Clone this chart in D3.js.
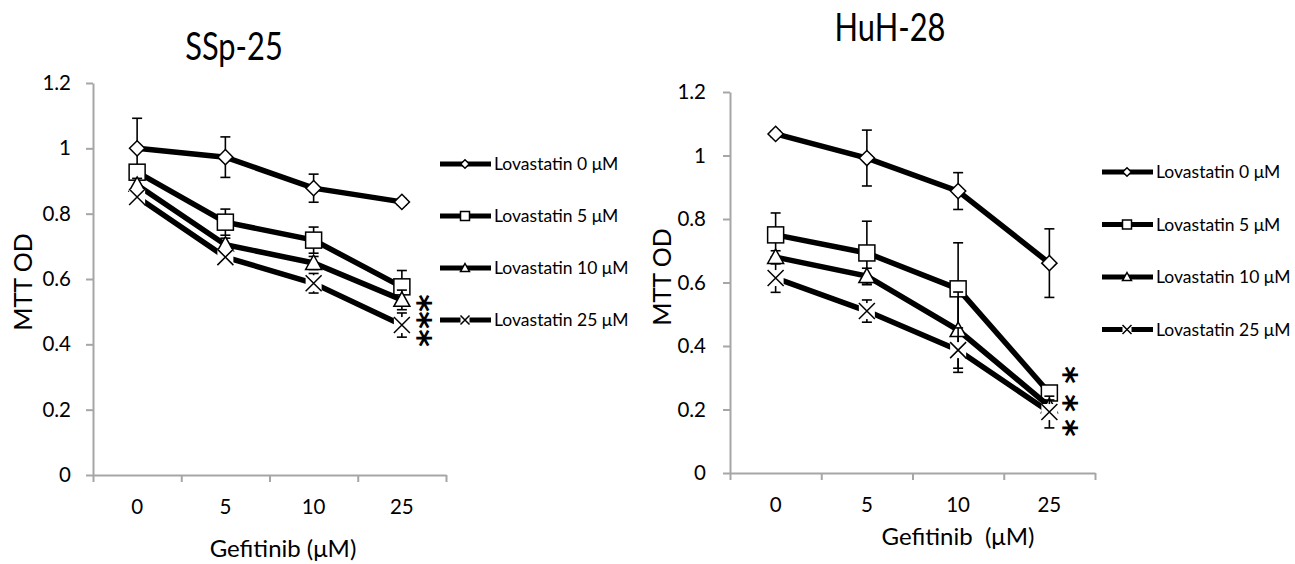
<!DOCTYPE html>
<html>
<head>
<meta charset="utf-8">
<script src="https://cdn.jsdelivr.net/npm/d3@7"></script>
<style>
  body { margin: 0; background: #fff; }
  svg { display: block; font-family: Lato, "Open Sans", sans-serif; }
</style>
</head>
<body>
<svg id="chart" width="1295" height="564"></svg>
<script>
// categories / labels
const doses = ["0", "5", "10", "25"];
const seriesNames = ["Lovastatin 0 \u03bcM", "Lovastatin 5 \u03bcM", "Lovastatin 10 \u03bcM", "Lovastatin 25 \u03bcM"];
const markerTypes = ["diamond", "square", "triangle", "cross"];
const yTicks = [0, 0.2, 0.4, 0.6, 0.8, 1, 1.2];

// SSp-25 means and error bars
const sspLova0 = [1.0, 0.973, 0.878, 0.836];
const sspLova5 = [0.927, 0.774, 0.719, 0.576];
const sspLova10 = [0.888, 0.705, 0.649, 0.536];
const sspLova25 = [0.851, 0.667, 0.587, 0.459];
const sspLova0Err = [0.092, 0.062, 0.043, 0.01];
const sspLova5Err = [0.02, 0.04, 0.04, 0.05];
const sspLova10Err = [0.02, 0.02, 0.02, 0.03];
const sspLova25Err = [0.02, 0.02, 0.03, 0.037];

// HuH-28 means and error bars
const huhLova0 = [1.068, 0.992, 0.888, 0.661];
const huhLova5 = [0.750, 0.693, 0.580, 0.252];
const huhLova10 = [0.680, 0.620, 0.450, 0.210];
const huhLova25 = [0.614, 0.510, 0.387, 0.192];
const huhLova0Err = [0.01, 0.088, 0.058, 0.108];
const huhLova5Err = [0.069, 0.10, 0.145, 0.02];
const huhLova10Err = [0.02, 0.025, 0.12, 0.02];
const huhLova25Err = [0.045, 0.035, 0.07, 0.05];

// significance marks (y value of each asterisk)
const sspStars = [0.526, 0.474, 0.419];
const huhStars = [0.309, 0.220, 0.142];

const svg = d3.select("#chart");

function drawChart(cfg) {
  const g = svg.append("g");
  const { left, right, top, bottom } = cfg;

  const y = d3.scaleLinear().domain([0, 1.2]).range([bottom, top]);
  const xEdge = d3.scaleLinear().domain([0, doses.length]).range([left, right]);
  const xBand = d3.scaleBand().domain(doses).range([left, right]);
  const cx = d => xBand(d) + xBand.bandwidth() / 2;

  // y axis
  const yAxis = d3.axisLeft(y)
    .tickValues(yTicks)
    .tickFormat(d3.format("~g"))
    .tickSize(7)
    .tickSizeOuter(0)
    .tickPadding(cfg.yLabelPad);
  const ya = g.append("g").attr("transform", `translate(${left},0)`).call(yAxis);
  ya.select(".domain").attr("stroke", "#a6a6a6").attr("stroke-width", 2);
  ya.selectAll(".tick line").attr("stroke", "#a6a6a6").attr("stroke-width", 2);
  ya.selectAll(".tick text").attr("font-size", 20.5).attr("fill", "#000").attr("font-family", "Lato");

  // x axis: tick marks on category edges
  const xTickAxis = d3.axisBottom(xEdge)
    .tickValues(d3.range(doses.length + 1))
    .tickFormat("")
    .tickSize(7)
    .tickSizeOuter(0);
  const xa = g.append("g").attr("transform", `translate(0,${bottom})`).call(xTickAxis);
  xa.select(".domain").attr("stroke", "#a6a6a6").attr("stroke-width", 2);
  xa.selectAll(".tick line").attr("stroke", "#a6a6a6").attr("stroke-width", 2);

  // x labels at category centres
  const xl = g.append("g").attr("transform", `translate(0,${bottom})`)
    .call(d3.axisBottom(xBand).tickSize(0).tickPadding(cfg.xLabelPad));
  xl.select(".domain").remove();
  xl.selectAll(".tick text").attr("font-size", 20.5).attr("fill", "#000").attr("font-family", "Lato");

  // titles
  g.append("text")
    .attr("transform", `translate(${cfg.titleX},${cfg.titleY}) scale(0.79,1)`)
    .attr("text-anchor", "middle").attr("font-size", 39).text(cfg.title);
  g.append("text").attr("x", cfg.xTitleX).attr("y", cfg.xTitleY)
    .attr("text-anchor", "middle").attr("font-size", 24)
    .attr("xml:space", "preserve").text(cfg.xTitle);
  g.append("text")
    .attr("transform", `translate(${cfg.yTitleX},${cfg.yTitleY}) rotate(-90)`)
    .attr("text-anchor", "middle").attr("font-size", 25).text("MTT OD");

  const line = d3.line().x((d, i) => cx(doses[i])).y(d => y(d));

  cfg.series.forEach((vals, s) => {
    const errs = cfg.errors[s];
    // error bars
    const eb = g.append("g").attr("stroke", "#000").attr("stroke-width", 1.6);
    vals.forEach((v, i) => {
      const x0 = cx(doses[i]);
      const hi = y(v + errs[i]), lo = y(v - errs[i]);
      eb.append("line").attr("x1", x0).attr("x2", x0).attr("y1", hi).attr("y2", lo);
      eb.append("line").attr("x1", x0 - 5).attr("x2", x0 + 5).attr("y1", hi).attr("y2", hi);
      eb.append("line").attr("x1", x0 - 5).attr("x2", x0 + 5).attr("y1", lo).attr("y2", lo);
    });
    // connecting line
    g.append("path").datum(vals).attr("d", line)
      .attr("fill", "none").attr("stroke", "#000").attr("stroke-width", 5.5);
    // markers
    vals.forEach((v, i) => drawMarker(g, markerTypes[s], cx(doses[i]), y(v), 16));
  });

  // stars: one text run turned on its side so the asterisks stack downwards
  const fs = 34;
  const st = g.append("text")
    .attr("font-size", fs).attr("font-weight", "bold").attr("font-family", "DejaVu Sans");
  const probe = st.append("tspan").text("*");
  const adv = probe.node().getComputedTextLength();
  probe.remove();
  const ys = cfg.stars.map(v => y(v));
  st.attr("transform", `translate(${cfg.starX - fs * 0.5},${ys[0] - adv / 2}) rotate(90)`);
  ys.forEach((yy, i) => {
    st.append("tspan").attr("dx", i === 0 ? 0 : (yy - ys[i - 1]) - adv).text("*");
  });

  // legend
  seriesNames.forEach((name, s) => {
    const ly = cfg.legendY + s * cfg.legendStep;
    const lg = g.append("g");
    lg.append("line").attr("x1", cfg.legendX).attr("x2", cfg.legendX + 51)
      .attr("y1", ly).attr("y2", ly).attr("stroke", "#000").attr("stroke-width", 5);
    drawMarker(lg, markerTypes[s], cfg.legendX + 25, ly, 9);
    lg.append("text").attr("x", cfg.legendX + 54).attr("y", ly + 6)
      .attr("font-size", 17.5).text(name);
  });
}

function drawMarker(g, type, x, y, size) {
  const h = size / 2;
  if (type === "diamond") {
    const r = h * 0.95;
    g.append("path").attr("d", `M${x},${y - r}L${x + r},${y}L${x},${y + r}L${x - r},${y}Z`)
      .attr("fill", "#fff").attr("stroke", "#000").attr("stroke-width", 1.5);
  } else if (type === "square") {
    g.append("rect").attr("x", x - h).attr("y", y - h).attr("width", size).attr("height", size)
      .attr("fill", "#fff").attr("stroke", "#000").attr("stroke-width", 1.5);
  } else if (type === "triangle") {
    g.append("path").attr("d", `M${x},${y - h}L${x + h},${y + h * 0.8}L${x - h},${y + h * 0.8}Z`)
      .attr("fill", "#fff").attr("stroke", "#000").attr("stroke-width", 1.5);
  } else {
    g.append("rect").attr("x", x - h).attr("y", y - h).attr("width", size).attr("height", size)
      .attr("fill", "#fff");
    g.append("path").attr("d", `M${x - h},${y - h}L${x + h},${y + h}M${x + h},${y - h}L${x - h},${y + h}`)
      .attr("stroke", "#000").attr("stroke-width", 1.5);
  }
}

drawChart({
  left: 93, right: 446, top: 83, bottom: 475,
  series: [sspLova0, sspLova5, sspLova10, sspLova25],
  errors: [sspLova0Err, sspLova5Err, sspLova10Err, sspLova25Err],
  title: "SSp-25", titleX: 234, titleY: 60,
  xTitle: "Gefitinib (\u03bcM)", xTitleX: 283, xTitleY: 557,
  yTitleX: 32, yTitleY: 282, xLabelPad: 24, yLabelPad: 15,
  stars: sspStars, starX: 424,
  legendX: 440, legendY: 164, legendStep: 52
});

drawChart({
  left: 730, right: 1095, top: 92, bottom: 473,
  series: [huhLova0, huhLova5, huhLova10, huhLova25],
  errors: [huhLova0Err, huhLova5Err, huhLova10Err, huhLova25Err],
  title: "HuH-28", titleX: 890, titleY: 41,
  xTitle: "Gefitinib  (\u03bcM)", xTitleX: 958, xTitleY: 545,
  yTitleX: 671, yTitleY: 277, xLabelPad: 24, yLabelPad: 17,
  stars: huhStars, starX: 1070,
  legendX: 1102, legendY: 172, legendStep: 52.5
});
</script>
</body>
</html>
